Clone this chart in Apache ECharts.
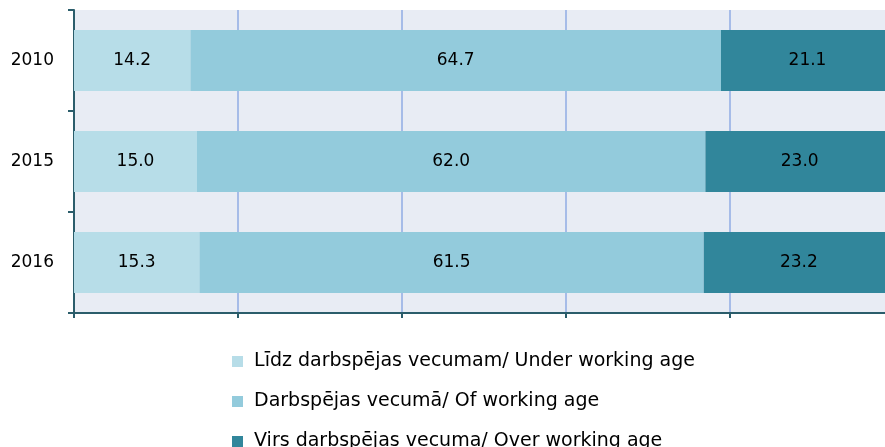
<!DOCTYPE html>
<html>
<head>
<meta charset="utf-8">
<script src="https://cdn.jsdelivr.net/npm/echarts@6/dist/echarts.min.js"></script>
<style>
  html, body { margin: 0; padding: 0; background: #fff; }
  #chart { width: 885px; height: 447px; }
</style>
</head>
<body>
<div id="chart"></div>
<script>
// dati
const years = ['2010', '2015', '2016'];
const seriesNames = [
    'Līdz darbspējas vecumam/ Under working age',
    'Darbspējas vecumā/ Of working age',
    'Virs darbspējas vecuma/ Over working age'
];
const underAge = [14.2, 15.0, 15.3];
const workingAge = [64.7, 62.0, 61.5];
const overAge = [21.1, 23.0, 23.2];
const colors = ['#b7dde8', '#93cbdc', '#31869b'];

const chart = echarts.init(document.getElementById('chart'));

const font = 'DejaVu Sans';
const makeSeries = (name, data, color) => ({
    name: name,
    type: 'bar',
    stack: 'total',
    data: data,
    barWidth: 61,
    itemStyle: { color: color },
    label: {
        show: true,
        position: 'inside',
        color: '#000',
        fontFamily: font,
        fontSize: 17,
        formatter: p => p.value.toFixed(1)
    },
    emphasis: { disabled: true }
});

const option = {
    animation: false,
    textStyle: { fontFamily: font },
    grid: {
        left: 74,
        top: 10,
        width: 820,      // chart runs past the right edge like the original
        height: 303,
        outerBoundsMode: 'none',
        backgroundColor: '#e8ecf4',
        show: true,
        borderWidth: 0
    },
    legend: {
        orient: 'vertical',
        left: 227,
        top: 347,
        height: 160,
        itemWidth: 11,
        itemHeight: 11,
        itemGap: 21,
        icon: 'rect',
        formatter: name => ' ' + name,
        textStyle: { fontSize: 19, lineHeight: 18, color: '#000', fontFamily: font },
        data: seriesNames
    },
    xAxis: {
        type: 'value',
        min: 0,
        max: 100,
        interval: 20,
        axisLine: { show: true, lineStyle: { color: '#2b5d6b', width: 2 } },
        axisTick: { show: true, length: 5, lineStyle: { color: '#2b5d6b', width: 2 } },
        axisLabel: { show: false },
        splitLine: { show: true, lineStyle: { color: '#a6bce8', width: 2 } }
    },
    yAxis: {
        type: 'category',
        data: years,
        inverse: true,
        axisLine: { show: true, lineStyle: { color: '#2b5d6b', width: 2 } },
        axisTick: { show: true, length: 6, lineStyle: { color: '#2b5d6b', width: 2 } },
        axisLabel: { color: '#000', fontSize: 17, margin: 20, fontFamily: font },
        splitLine: { show: false }
    },
    series: [
        makeSeries(seriesNames[0], underAge, colors[0]),
        makeSeries(seriesNames[1], workingAge, colors[1]),
        makeSeries(seriesNames[2], overAge, colors[2])
    ]
};

chart.setOption(option);
</script>
</body>
</html>
